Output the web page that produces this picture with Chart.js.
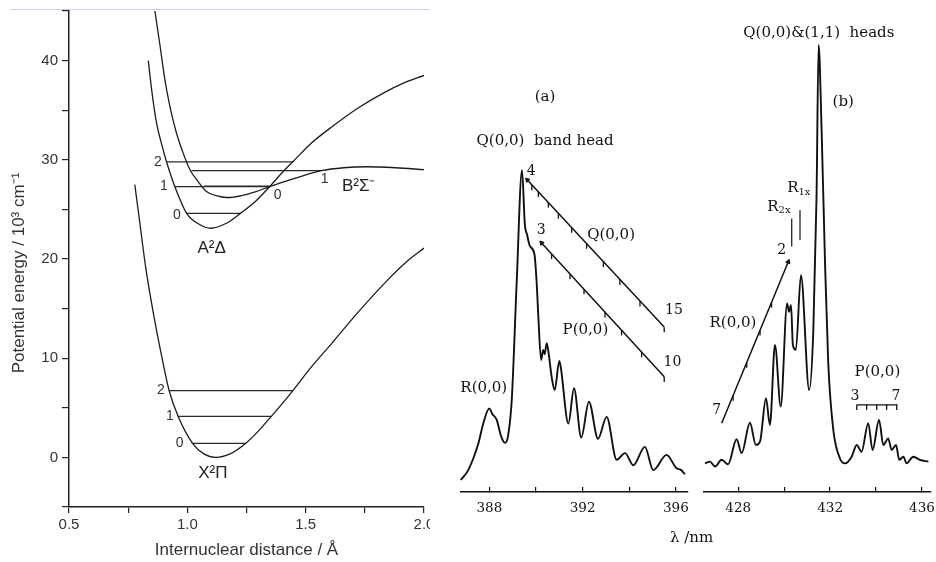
<!DOCTYPE html>
<html>
<head>
<meta charset="utf-8">
<script src="https://cdn.jsdelivr.net/npm/chart.js@4.4.1/dist/chart.umd.min.js"></script>
<style>
  html, body { margin: 0; padding: 0; background: #fff; }
  #wrap { position: relative; width: 936px; height: 562px; overflow: hidden; }
  #wrap canvas { position: absolute; top: 0; }
  #topline { position: absolute; left: 10px; top: 9px; width: 420px; height: 1px; background: #c9ccf0; }
</style>
</head>
<body>
<div id="wrap">
  <div id="topline"></div>
  <canvas id="pot" width="430" height="562" style="left:0"></canvas>
  <canvas id="specA" width="280" height="562" style="left:440px"></canvas>
  <canvas id="specB" width="241" height="562" style="left:695px"></canvas>
</div>
<script>
// ---- potential curves: r in Å, E in 10^3 cm-1 ----
const xPiR  = [0.778, 0.80, 0.825, 0.856, 0.884, 0.923, 0.961, 1.022, 1.07, 1.12, 1.18, 1.246, 1.30, 1.355, 1.40, 1.446, 1.52, 1.614, 1.72, 1.847, 1.93, 2.0];
const xPiE  = [27.5, 23.5, 19.0, 14.6, 11.1, 6.74, 4.14, 1.41, 0.35, 0, 0.35, 1.41, 2.65, 4.14, 5.4, 6.74, 9.0, 11.6, 14.6, 17.9, 19.8, 21.1];
const aDelR = [0.835, 0.849, 0.870, 0.898, 0.912, 0.947, 0.997, 1.05, 1.098, 1.165, 1.224, 1.292, 1.348, 1.404, 1.446, 1.52, 1.615, 1.72, 1.826, 1.92, 2.0];
const aDelE = [40.0, 37.1, 33.7, 31.0, 29.8, 27.3, 24.6, 23.5, 23.1, 23.6, 24.6, 25.9, 27.3, 28.8, 29.8, 31.6, 33.4, 35.2, 36.7, 37.8, 38.5];
const bSigR = [0.863, 0.884, 0.905, 0.926, 0.954, 0.982, 1.011, 1.046, 1.081, 1.137, 1.17, 1.23, 1.29, 1.348, 1.45, 1.566, 1.66, 1.756, 1.88, 2.0];
const bSigE = [45.0, 41.6, 38.1, 35.4, 32.7, 30.7, 29.0, 27.8, 26.8, 26.3, 26.2, 26.4, 26.8, 27.3, 28.1, 28.9, 29.2, 29.3, 29.2, 29.0];

// vibrational levels (A v=0,1,2; B v=0,1; X v=0,1,2)
const levelE  = [24.6, 27.3, 29.8, 27.35, 28.9, 1.41, 4.14, 6.74];
const levelR0 = [0.997, 0.947, 0.912, 1.07, 1.018, 1.022, 0.961, 0.923];
const levelR1 = [1.224, 1.348, 1.446, 1.348, 1.566, 1.246, 1.355, 1.446];

const potXTicks  = [0.5, 0.75, 1.0, 1.25, 1.5, 1.75, 2.0];
const potXLabels = ['0.5', '', '1.0', '', '1.5', '', '2.0'];
const potYTicks  = [-5, 0, 5, 10, 15, 20, 25, 30, 35, 40, 45];
const potYLabels = ['', '0', '', '10', '', '20', '', '30', '', '40', ''];

// ---- spectrum (a): wavelength nm, relative intensity ----
const lamA = [386.77, 387.05, 387.31, 387.53, 387.74, 388.00, 388.12, 388.32, 388.50, 388.67, 388.80, 388.96, 389.17, 389.40,
  389.52, 389.62, 389.74, 389.93, 390.03, 390.10, 390.22, 390.31, 390.37, 390.46, 390.53, 390.67, 390.80, 391.00, 391.06,
  391.39, 391.63, 391.94, 392.27, 392.66, 393.03, 393.46, 393.82, 394.17, 394.67, 395.03, 395.60, 396.03, 396.20, 396.39];
const intA = [2.7, 4.5, 7.5, 10.9, 15.4, 18.7, 17.5, 16.1, 12.5, 11.0, 12.5, 20.6, 46.7, 72.0,
  60.0, 57.5, 55.0, 53.3, 46.7, 39.2, 29.5, 31.8, 30.8, 33.3, 31.5, 25.8, 22.8, 29.3, 28.0,
  15.3, 23.2, 12.2, 20.2, 11.9, 16.8, 7.2, 8.7, 6.0, 10.1, 4.9, 8.3, 5.3, 5.0, 4.0];
const qLineLam = [389.63, 395.50], qLineInt = [69.8, 36.9];
const pLineLam = [390.24, 395.50], pLineInt = [55.7, 25.8];
const qTickLam = [389.82, 390.10, 390.53, 390.96, 391.53, 392.17, 392.89, 393.60, 394.46, 395.50];
const qTickInt = [68.1, 66.6, 64.2, 61.7, 58.6, 55.0, 50.9, 46.9, 42.1, 36.3];
const pTickLam = [390.67, 391.46, 392.06, 392.96, 393.67, 394.53, 395.50];
const pTickInt = [52.7, 48.2, 44.8, 39.6, 35.6, 30.7, 25.2];
const aXTicks  = [388, 390, 392, 394, 396];
const aXLabels = ['388', '', '392', '', '396'];

// ---- spectrum (b) ----
const lamB = [426.55, 426.77, 426.99, 427.28, 427.56, 427.93, 428.15, 428.51, 428.77, 428.95, 429.21, 429.38, 429.60, 429.85,
  430.13, 430.21, 430.30, 430.38, 430.51, 430.73, 431.09, 431.27, 431.41, 431.50, 431.63, 431.78, 431.92, 432.14, 432.43,
  432.65, 432.94, 433.16, 433.37, 433.66, 433.85, 434.13, 434.32, 434.53, 434.68, 434.87, 435.01, 435.19, 435.33, 435.62,
  435.91, 436.28];
const intB = [6.4, 6.8, 5.7, 7.2, 6.2, 11.8, 8.7, 15.5, 10.5, 11.3, 21.0, 15.0, 32.9, 19.1,
  42.2, 40.3, 41.8, 32.9, 31.8, 48.5, 22.8, 36.2, 66.1, 100, 81.0, 51.2, 28.8, 13.9, 7.5,
  6.4, 7.9, 10.5, 9.0, 15.4, 9.4, 16.1, 10.5, 12.0, 9.4, 10.5, 7.2, 7.9, 6.4, 7.9,
  7.2, 6.8];
const rLineLam = [427.28, 430.18], rLineInt = [15.4, 51.5];
const rTickLam = [427.78, 428.37, 428.95, 429.45];
const rTickInt = [21.0, 28.4, 35.6, 41.8];
const pBrLam = [433.16, 434.93], pBrInt = [19.5, 19.5];
const pBrTickLam = [433.16, 433.59, 434.03, 434.46, 434.90];
const pBrTickInt = [18.95, 18.95, 18.95, 18.95, 18.95];
const r2xLam = [430.33, 430.33], r2xInt = [54.9, 61.2];
const r1xLam = [430.69, 430.69], r1xInt = [56.4, 63.1];
const bXTicks  = [428, 430, 432, 434, 436];
const bXLabels = ['428', '', '432', '', '436'];

// ---- helpers ----
const pts = (xs, ys) => xs.map((v, i) => ({ x: v, y: ys[i] }));
const SANS = '"Liberation Sans", Arial, sans-serif';
const SERIF = '"DejaVu Serif", serif';
const INK = '#111';

// keep chart areas where the axes sit in the picture (no extra label padding)
function noPad(s) {
  s.paddingLeft = 0; s.paddingRight = 0; s.paddingTop = 0; s.paddingBottom = 0;
}

function textPlugin(id, items) {
  return {
    id,
    afterDraw(chart) {
      const { ctx, scales } = chart;
      ctx.save();
      ctx.textBaseline = 'middle';
      items.forEach(it => {
        const px = scales.x.getPixelForValue(it.x);
        const py = scales.y.getPixelForValue(it.y);
        ctx.fillStyle = it.c || INK;
        ctx.font = it.f;
        if (it.sub) {
          const w1 = ctx.measureText(it.t).width;
          ctx.font = it.fs;
          const w2 = ctx.measureText(it.sub).width;
          const x0 = px - (w1 + w2) / 2;
          ctx.textAlign = 'left';
          ctx.font = it.f;
          ctx.fillText(it.t, x0, py);
          ctx.font = it.fs;
          ctx.fillText(it.sub, x0 + w1, py + 4);
        } else {
          ctx.textAlign = it.a || 'center';
          ctx.fillText(it.t, px, py);
        }
      });
      ctx.restore();
    }
  };
}

const yTitlePlugin = {
  id: 'ytitle',
  afterDraw(chart) {
    const ctx = chart.ctx;
    ctx.save();
    ctx.translate(19, 273);
    ctx.rotate(-Math.PI / 2);
    ctx.font = '17px ' + SANS;
    ctx.fillStyle = '#333';
    ctx.textAlign = 'center';
    ctx.textBaseline = 'middle';
    ctx.fillText('Potential energy / 10³ cm⁻¹', 0, 0);
    ctx.restore();
  }
};

Chart.defaults.animation = false;
Chart.defaults.plugins.legend.display = false;
Chart.defaults.plugins.tooltip.enabled = false;

// ---- left: potential energy curves ----
const curve = (xs, ys) => ({
  data: pts(xs, ys), borderColor: '#1c1c1c', borderWidth: 1.3, pointRadius: 0,
  cubicInterpolationMode: 'monotone', fill: false
});
const levelSets = levelE.map((e, i) => ({
  data: [{ x: levelR0[i], y: e }, { x: levelR1[i], y: e }],
  borderColor: '#2a2a2a', borderWidth: 1.2, pointRadius: 0, fill: false
}));

const potLabels = [
  { t: '2', x: 0.876, y: 29.8, f: '14px ' + SANS, c: '#333' },
  { t: '1', x: 0.901, y: 27.3, f: '14px ' + SANS, c: '#333' },
  { t: '0', x: 0.956, y: 24.4, f: '14px ' + SANS, c: '#333' },
  { t: 'A²Δ', x: 1.103, y: 21.1, f: '17px ' + SANS, c: '#222' },
  { t: '0', x: 1.382, y: 26.4, f: '14px ' + SANS, c: '#333' },
  { t: '1', x: 1.580, y: 28.0, f: '14px ' + SANS, c: '#333' },
  { t: 'B²Σ⁻', x: 1.724, y: 27.3, f: '17px ' + SANS, c: '#222' },
  { t: '2', x: 0.888, y: 6.77, f: '14px ' + SANS, c: '#333' },
  { t: '1', x: 0.926, y: 4.14, f: '14px ' + SANS, c: '#333' },
  { t: '0', x: 0.968, y: 1.41, f: '14px ' + SANS, c: '#333' },
  { t: 'X²Π', x: 1.108, y: -1.6, f: '17px ' + SANS, c: '#222' }
];

new Chart(document.getElementById('pot'), {
  type: 'line',
  data: { datasets: [curve(xPiR, xPiE), curve(aDelR, aDelE), curve(bSigR, bSigE), ...levelSets] },
  options: {
    responsive: false,
    devicePixelRatio: 1,
    layout: { padding: { left: 0, right: 6, top: 11, bottom: 0 } },
    scales: {
      x: {
        type: 'linear', min: 0.5, max: 2.0,
        afterFit(s) { s.height = 55; noPad(s); },
        afterBuildTicks(s) { s.ticks = potXTicks.map(v => ({ value: v })); },
        ticks: {
          autoSkip: false, maxRotation: 0, padding: 3, color: '#333',
          font: { family: SANS, size: 15 },
          callback: (v, i) => potXLabels[i]
        },
        grid: { drawOnChartArea: false, tickLength: 6, color: '#222', lineWidth: 1.2 },
        border: { color: '#222', width: 1.5 },
        title: {
          display: true, text: 'Internuclear distance / Å', color: '#333',
          font: { family: SANS, size: 17 }, padding: { top: 0, bottom: 1 }
        }
      },
      y: {
        min: -5, max: 45,
        afterFit(s) { s.width = 69; noPad(s); },
        afterBuildTicks(s) { s.ticks = potYTicks.map(v => ({ value: v })); },
        ticks: {
          autoSkip: false, padding: 4, color: '#333',
          font: { family: SANS, size: 15 },
          callback: (v, i) => potYLabels[i]
        },
        grid: { drawOnChartArea: false, tickLength: 7, color: '#222', lineWidth: 1.2 },
        border: { color: '#222', width: 1.5 }
      }
    }
  },
  plugins: [textPlugin('potText', potLabels), yTitlePlugin]
});

// ---- spectra ----
const trace = (xs, ys) => ({
  data: pts(xs, ys), borderColor: INK, borderWidth: 1.9, pointRadius: 0,
  cubicInterpolationMode: 'monotone', fill: false, clip: false
});
const seg = (xs, ys, w) => ({
  data: pts(xs, ys), borderColor: INK, borderWidth: w || 1.5, pointRadius: 0, fill: false, clip: false
});
const ticksSet = (xs, ys) => ({
  data: pts(xs, ys), showLine: false, pointStyle: 'line', pointRotation: 90,
  pointRadius: 2.6, pointBorderColor: INK, pointBorderWidth: 1.3, clip: false
});
const arrowSet = (xs, ys, rot) => ({
  data: pts(xs, ys), showLine: false, pointStyle: 'triangle', pointRotation: rot,
  pointRadius: 2.6, pointBackgroundColor: INK, pointBorderColor: INK, pointBorderWidth: 1, clip: false
});

function specOptions(min, max, padL, padR, tickVals, tickLabs) {
  return {
    responsive: false,
    devicePixelRatio: 1,
    layout: { padding: { left: padL, right: padR, top: 45, bottom: 40 } },
    scales: {
      x: {
        type: 'linear', min, max,
        afterFit(s) { s.height = 30; noPad(s); },
        afterBuildTicks(s) { s.ticks = tickVals.map(v => ({ value: v })); },
        ticks: {
          autoSkip: false, maxRotation: 0, padding: 13, color: INK,
          font: { family: SERIF, size: 13.5 },
          callback: (v, i) => tickLabs[i]
        },
        grid: { drawOnChartArea: false, tickLength: -5, color: INK, lineWidth: 1.2 },
        border: { color: INK, width: 1.5 }
      },
      y: { display: false, min: 0, max: 100 }
    }
  };
}

const F15 = '15px ' + SERIF;
const F14 = '14px ' + SERIF;
const specALabels = [
  { t: '(a)', x: 390.39, y: 88.4, f: F15 },
  { t: 'Q(0,0)  band head', x: 390.39, y: 78.4, f: F15 },
  { t: '4', x: 389.79, y: 71.8, f: F14 },
  { t: '3', x: 390.22, y: 58.6, f: F14 },
  { t: 'Q(0,0)', x: 393.22, y: 57.5, f: F15 },
  { t: 'P(0,0)', x: 392.12, y: 36.2, f: F15 },
  { t: '15', x: 395.92, y: 40.7, f: F14 },
  { t: '10', x: 395.85, y: 29.1, f: F14 },
  { t: 'R(0,0)', x: 387.76, y: 23.3, f: F15 },
  { t: 'λ /nm', x: 396.67, y: -10.3, f: F15 }
];

new Chart(document.getElementById('specA'), {
  type: 'line',
  data: {
    datasets: [
      trace(lamA, intA),
      seg(qLineLam, qLineInt), seg(pLineLam, pLineInt),
      ticksSet(qTickLam, qTickInt), ticksSet(pTickLam, pTickInt),
      arrowSet([qLineLam[0], pLineLam[0]], [qLineInt[0], pLineInt[0]], -43)
    ]
  },
  options: specOptions(386.77, 396.49, 20.7, 32.7, aXTicks, aXLabels),
  plugins: [textPlugin('specAText', specALabels)]
});

const specBLabels = [
  { t: 'Q(0,0)&(1,1)  heads', x: 431.51, y: 102.7, f: F15 },
  { t: '(b)', x: 432.57, y: 87.3, f: F15 },
  { t: 'R', sub: '1x', x: 430.64, y: 68.0, f: F15, fs: '10px ' + SERIF },
  { t: 'R', sub: '2x', x: 429.77, y: 63.8, f: F15, fs: '10px ' + SERIF },
  { t: '2', x: 429.89, y: 54.1, f: F14 },
  { t: '7', x: 427.06, y: 18.3, f: F14 },
  { t: 'R(0,0)', x: 427.77, y: 37.8, f: F15 },
  { t: 'P(0,0)', x: 434.06, y: 26.8, f: F15 },
  { t: '3', x: 433.08, y: 21.3, f: F14 },
  { t: '7', x: 434.87, y: 21.3, f: F14 }
];

new Chart(document.getElementById('specB'), {
  type: 'line',
  data: {
    datasets: [
      trace(lamB, intB),
      seg(rLineLam, rLineInt), ticksSet(rTickLam, rTickInt),
      arrowSet([rLineLam[1]], [rLineInt[1]], 22),
      seg(pBrLam, pBrInt, 1.3), ticksSet(pBrTickLam, pBrTickInt),
      seg(r2xLam, r2xInt, 1.2), seg(r1xLam, r1xInt, 1.2)
    ]
  },
  options: specOptions(426.48, 436.38, 8.3, 5.3, bXTicks, bXLabels),
  plugins: [textPlugin('specBText', specBLabels)]
});
</script>
</body>
</html>
